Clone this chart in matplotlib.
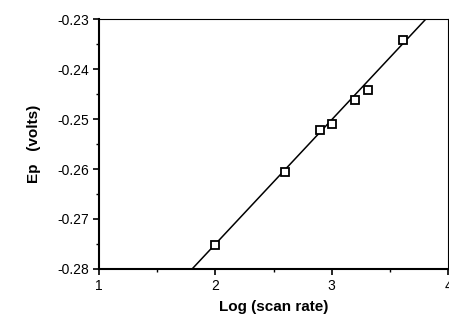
import matplotlib
matplotlib.use("Agg")
import matplotlib.pyplot as plt
from matplotlib.ticker import MultipleLocator, FormatStrFormatter

# measured points: log(scan rate) vs peak potential
log_rate = [2.0, 2.6, 2.9, 3.0, 3.2, 3.31, 3.61]
ep = [-0.2752, -0.2605, -0.2521, -0.2510, -0.2462, -0.2442, -0.2341]

# fitted straight line end points (as drawn)
fit_x = [1.80, 3.81]
fit_y = [-0.280, -0.230]

plt.rcParams['font.family'] = ['Liberation Sans', 'DejaVu Sans']

fig = plt.figure(figsize=(4.49, 3.21), dpi=100)
ax = fig.add_axes([0.2205, 0.162, 0.7773, 0.7788])

ax.plot(fit_x, fit_y, color='black', lw=1.1)
ax.plot(log_rate, ep, ls='none', marker='s', ms=6, mfc='white',
        mec='black', mew=1.3, clip_on=False)

ax.set_xlim(1, 4)
ax.set_ylim(-0.28, -0.23)
ax.xaxis.set_major_locator(MultipleLocator(1))
ax.xaxis.set_minor_locator(MultipleLocator(0.5))
ax.yaxis.set_major_locator(MultipleLocator(0.01))
ax.yaxis.set_minor_locator(MultipleLocator(0.005))
ax.xaxis.set_major_formatter(FormatStrFormatter('%d'))
ax.yaxis.set_major_formatter(FormatStrFormatter('%.2f'))

ax.tick_params(which='major', direction='out', length=4, width=1.2,
               labelsize=10, pad=3)
ax.tick_params(which='minor', direction='out', length=2.5, width=1)

for side in ['left', 'bottom']:
    ax.spines[side].set_linewidth(1.5)
for side in ['top', 'right']:
    ax.spines[side].set_linewidth(0.8)

ax.set_xlabel('Log (scan rate)', fontsize=11, fontweight='bold', labelpad=5)
ax.set_ylabel('Ep   (volts)', fontsize=11, fontweight='bold', labelpad=12)

fig.savefig('out.png', dpi=100)
